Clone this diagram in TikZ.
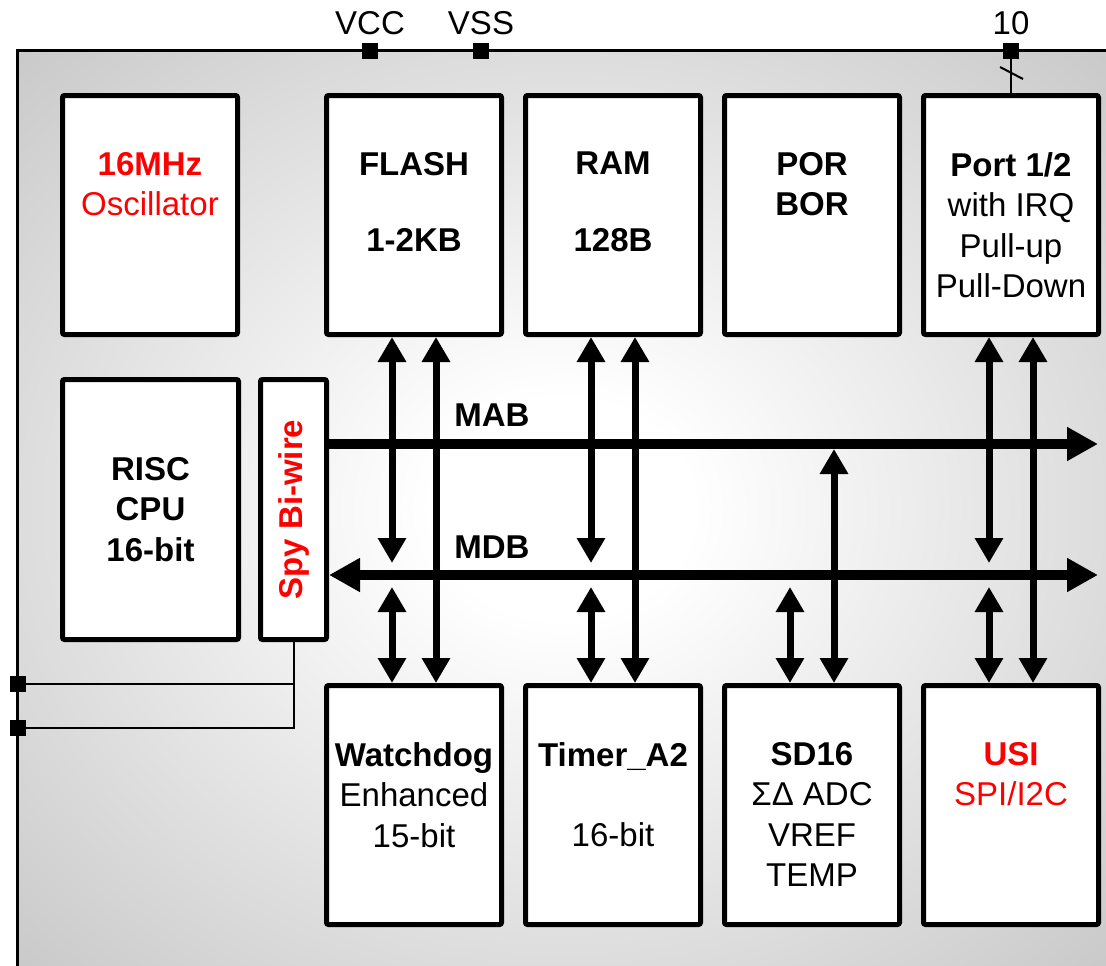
\documentclass[tikz,border=0pt]{standalone}
\usepackage{fontspec}
\setmainfont{Liberation Sans}
\usetikzlibrary{arrows.meta,positioning}
\pgfdeclareradialshading{chipglow}{\pgfpoint{0bp}{0bp}}{color(0bp)=(white); color(6bp)=(white); color(48bp)=(black!30); color(100bp)=(black!30)}

\begin{document}
\begin{tikzpicture}[
x=1pt, y=-1pt,
font=\fontsize{33}{40.5}\selectfont,
blk/.style={
draw,
fill=white,
line width=5pt,
rounded corners=2pt,
inner sep=0pt,
minimum width=175pt,
minimum height=239pt
},
txt/.style={align=center, inner sep=0pt, anchor=north},
bus/.style={line width=10pt, >={Triangle[length=31pt,width=32pt]}},
link/.style={line width=7pt, <->, >={Triangle[length=25pt,width=27pt]}},
pin/.style={fill=black, inner sep=0pt, minimum size=16pt},
pinlabel/.style={inner sep=0pt},
wire/.style={line width=2pt}
]

\useasboundingbox (0,0) rectangle (1106,966);

% chip outline
\shade[shading=chipglow] (17,51) rectangle (1106,966);
\draw[line width=3pt] (17,966) |- (1106,51);

% top row
\node[blk] (osc)
at (150,215)
{};
\node[blk] (flash)
at (414,215)
{};
\node[blk] (ram)
at (613,215)
{};
\node[blk] (por)
at (812,215)
{};
\node[blk] (port)
at (1011,215)
{};

% middle row
\node[blk, minimum width=176pt, minimum height=260pt] (risc)
at (150.5,509.5)
{};
\node[blk, minimum width=66pt, minimum height=260pt] (spy)
at (293.5,509.5)
{};

% bottom row
\node[blk] (wdt)
at (414,805)
{};
\node[blk] (timer)
at (613,805)
{};
\node[blk] (sd)
at (812,805)
{};
\node[blk] (usi)
at (1011,805)
{};

% texts
\node[txt, text=red] (osct)
at ([yshift=-59pt]osc.north)
{\textbf{16MHz}\\Oscillator};
\node[txt, font=\fontsize{33}{40.5}\selectfont\bfseries] (flasht)
at ([yshift=-59pt]flash.north)
{FLASH\\[36pt]1-2KB};
\node[txt, font=\fontsize{33}{40.5}\selectfont\bfseries] (ramt)
at ([yshift=-59pt]ram.north)
{RAM\\[36pt]128B};
\node[txt, font=\fontsize{33}{40.5}\selectfont\bfseries] (port-por)
at ([yshift=-59pt]por.north)
{POR\\BOR};
\node[txt] (portt)
at ([yshift=-59pt]port.north)
{\textbf{Port 1/2}\\with IRQ\\Pull-up\\Pull-Down};
\node[txt, anchor=center, font=\fontsize{33}{40.5}\selectfont\bfseries] (risct)
at (risc.center)
{RISC\\CPU\\16-bit};
\node[txt, anchor=center, rotate=90, text=red, font=\fontsize{33}{40.5}\selectfont\bfseries] (spyt)
at (spy.center)
{Spy Bi-wire};
\node[txt] (wdtt)
at ([yshift=-59pt]wdt.north)
{\textbf{Watchdog}\\Enhanced\\15-bit};
\node[txt] (timert)
at ([yshift=-59pt]timer.north)
{\textbf{Timer\_A2}\\[40pt]16-bit};
\node[txt] (sdt)
at ([yshift=-59pt]sd.north)
{\textbf{SD16}\\ΣΔ ADC\\VREF\\TEMP};
\node[txt, text=red] (usit)
at ([yshift=-59pt]usi.north)
{\textbf{USI}\\SPI/I2C};

% buses
\coordinate (mabend) at (1098,444);
\coordinate (mdbend) at (1098,575);
\coordinate (mabbot) at (0,449);
\coordinate (mdbtop) at (0,563);
\coordinate (mdbbot) at (0,587);

\draw[bus, ->] (spy.east |- mabend) -- (mabend);
\draw[bus, <->] (spy.east |- mdbend) -- (mdbend);

\node[font=\fontsize{33}{40.5}\selectfont\bfseries, inner sep=0pt] (mab)
at (492,415)
{MAB};
\node[font=\fontsize{33}{40.5}\selectfont\bfseries, inner sep=0pt] (mdb)
at (492,547)
{MDB};

% links to the buses
\foreach \up/\dn in {flash/wdt, ram/timer, port/usi} {
\draw[link] ([xshift=-22pt]\up.south) -- ([xshift=-22pt]\up.south |- mdbtop);
\draw[link] ([xshift=-22pt]\dn.north |- mdbbot) -- ([xshift=-22pt]\dn.north);
\draw[link] ([xshift=22pt]\up.south) -- ([xshift=22pt]\dn.north);
}
\draw[link] ([xshift=-22pt]sd.north |- mdbbot) -- ([xshift=-22pt]sd.north);
\draw[link] ([xshift=22pt]sd.north |- mabbot) -- ([xshift=22pt]sd.north);

% pins
\node[pin] (vcc) at (370,51) {};
\node[pin] (vss) at (481,51) {};
\node[pin] (p10) at (1011,51) {};
\node[pin] (sbwa) at (18,684) {};
\node[pin] (sbwb) at (18,728) {};

\node[pinlabel, above=8pt of vcc] (vcct) {VCC};
\node[pinlabel, above=8pt of vss] (vsst) {VSS};
\node[pinlabel, above=8pt of p10] (p10t) {10};

\draw[wire] (p10) -- (port.north);
\draw[wire] (1000,67) -- (1023,79);
\draw[wire] (sbwa) -| (spy.south);
\draw[wire] (sbwb) -| (spy.south);

\end{tikzpicture}
\end{document}
